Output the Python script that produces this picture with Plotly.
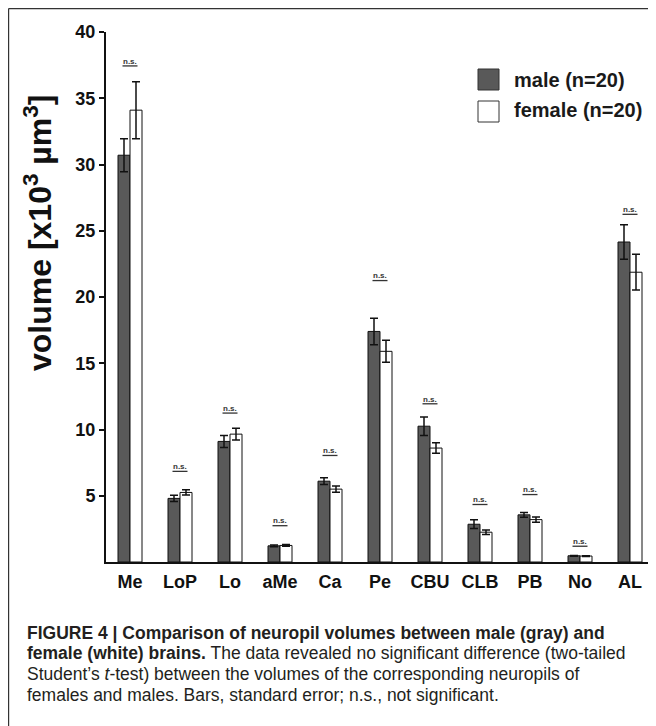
import plotly.graph_objects as go

# ---- data ----
categories = ["Me", "LoP", "Lo", "aMe", "Ca", "Pe", "CBU", "CLB", "PB", "No", "AL"]
male_mean = [30.7, 4.8, 9.1, 1.22, 6.1, 17.4, 10.25, 2.85, 3.56, 0.47, 24.15]
male_se = [1.25, 0.23, 0.45, 0.06, 0.25, 1.0, 0.7, 0.33, 0.18, 0.03, 1.3]
female_mean = [34.1, 5.25, 9.65, 1.25, 5.5, 15.9, 8.6, 2.25, 3.2, 0.45, 21.87]
female_se = [2.15, 0.2, 0.45, 0.07, 0.23, 0.83, 0.4, 0.17, 0.2, 0.03, 1.35]
ns_level = [37.8, 7.2, 11.6, 3.1, 8.4, 21.6, 12.3, 4.7, 5.45, 1.55, 26.6]
y_ticks = [5, 10, 15, 20, 25, 30, 35, 40]

# page body has an 8px margin; work in screen coordinates and offset
OFF = 8
W, H = 656 - OFF, 726 - OFF
L, R, T, B = 106 - OFF, 651 - OFF, 32 - OFF, 562 - OFF


def px(x):
    return (x - OFF - L) / (R - L)


def py(y):
    return (B - (y - OFF)) / (B - T)


FONT = "Arial, Liberation Sans, sans-serif"

fig = go.Figure()
fig.add_trace(go.Bar(
    x=categories, y=male_mean, name="male (n=20)",
    marker=dict(color="#595959", line=dict(color="#111111", width=1)),
    error_y=dict(type="data", array=male_se, color="#111111", thickness=1.5, width=4),
))
fig.add_trace(go.Bar(
    x=categories, y=female_mean, name="female (n=20)",
    marker=dict(color="#ffffff", line=dict(color="#111111", width=1)),
    error_y=dict(type="data", array=female_se, color="#111111", thickness=1.5, width=4),
))

shapes = []
annotations = []

# n.s. labels with underline
for i, lvl in enumerate(ns_level):
    annotations.append(dict(
        x=i, y=lvl, xref="x", yref="y", text="<b>n.s.</b>", showarrow=False,
        font=dict(family=FONT, size=8, color="#333333"),
        xanchor="center", yanchor="middle",
    ))
    shapes.append(dict(
        type="line", xref="x", yref="y", x0=i - 0.15, x1=i + 0.15,
        y0=lvl - 0.36, y1=lvl - 0.36, line=dict(color="#333333", width=1.3),
    ))

# custom legend
shapes.append(dict(type="rect", xref="paper", yref="paper",
                   x0=px(478), x1=px(499), y0=py(90), y1=py(69),
                   fillcolor="#595959", line=dict(color="#333333", width=1)))
shapes.append(dict(type="rect", xref="paper", yref="paper",
                   x0=px(478), x1=px(499), y0=py(122), y1=py(101),
                   fillcolor="#ffffff", line=dict(color="#333333", width=1)))
annotations.append(dict(x=px(512), y=py(80), xref="paper", yref="paper",
                        text="<b>male (n=20)</b>", showarrow=False,
                        xanchor="left", yanchor="middle",
                        font=dict(family=FONT, size=20, color="#1a1a1a")))
annotations.append(dict(x=px(512), y=py(110), xref="paper", yref="paper",
                        text="<b>female (n=20)</b>", showarrow=False,
                        xanchor="left", yanchor="middle",
                        font=dict(family=FONT, size=20, color="#1a1a1a")))

# y-axis title
annotations.append(dict(x=px(38), y=py(233), xref="paper", yref="paper",
                        text="<b>volume [x10<sup>3</sup> µm<sup>3</sup>]</b>", showarrow=False,
                        textangle=-90, xanchor="center", yanchor="middle",
                        font=dict(family=FONT, size=32, color="#111111")))

# frame lines (top and left)
shapes.append(dict(type="line", xref="paper", yref="paper",
                   x0=px(8.6), x1=px(660), y0=py(8.6), y1=py(8.6),
                   line=dict(color="#333333", width=1.2)))
shapes.append(dict(type="line", xref="paper", yref="paper",
                   x0=px(8.6), x1=px(8.6), y0=py(8.6), y1=py(730),
                   line=dict(color="#333333", width=1.2)))

# caption
cap_font = dict(family=FONT, size=17.5, color="#231f20")
caption_lines = [
    "<b>FIGURE 4 | Comparison of neuropil volumes between male (gray) and</b>",
    "<b>female (white) brains.</b> The data revealed no significant difference (two-tailed",
    "Student’s <i>t</i>-test) between the volumes of the corresponding neuropils of",
    "females and males. Bars, standard error; n.s., not significant.",
]
caption_y = [633, 653, 674, 695]
for txt, yy in zip(caption_lines, caption_y):
    annotations.append(dict(x=px(25), y=py(yy), xref="paper", yref="paper",
                            text=txt, showarrow=False, xanchor="left", yanchor="middle",
                            align="left", font=cap_font))

fig.update_layout(
    width=W, height=H,
    margin=dict(l=L, r=W - R, t=T, b=H - B, pad=0),
    paper_bgcolor="white", plot_bgcolor="white",
    barmode="group", bargap=0.52, bargroupgap=0,
    showlegend=False,
    shapes=shapes, annotations=annotations,
    xaxis=dict(
        type="category", range=[-0.48, 10.42],
        showline=True, linecolor="#111111", linewidth=2,
        ticks="", showgrid=False, zeroline=False,
        tickfont=dict(family=FONT, size=18, color="#111111", weight="bold"),
        ticklabelstandoff=2,
    ),
    yaxis=dict(
        range=[0, 40], tickvals=y_ticks,
        showline=True, linecolor="#111111", linewidth=2,
        ticks="outside", ticklen=5, tickwidth=2, tickcolor="#111111",
        showgrid=False, zeroline=False,
        tickfont=dict(family=FONT, size=18, color="#111111", weight="bold"),
    ),
)

fig.write_html("out.html")
